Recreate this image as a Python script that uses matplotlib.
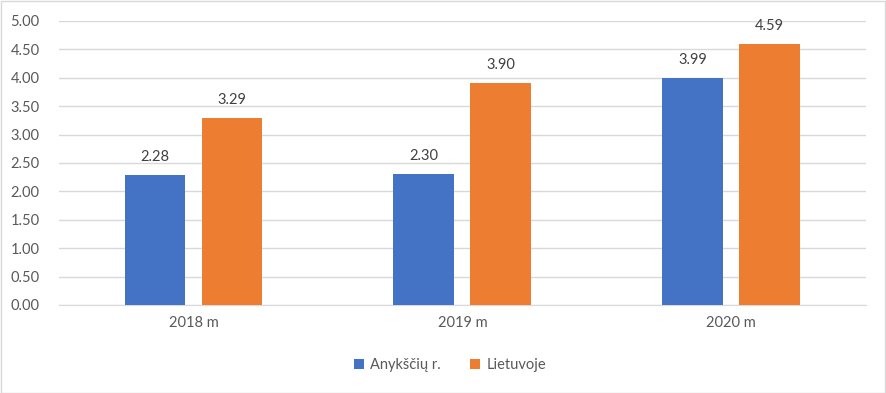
import matplotlib.pyplot as plt
import numpy as np

plt.rcParams['font.family'] = ['Lato', 'DejaVu Sans']

years = ['2018 m', '2019 m', '2020 m']
anyksciai = [2.28, 2.30, 3.99]
lietuva = [3.29, 3.90, 4.59]
series_names = ['Anykščių r.', 'Lietuvoje']

blue = '#4472C4'
orange = '#ED7D31'
txt = '#595959'

fig = plt.figure(figsize=(8.86, 3.93), dpi=100)
ax = fig.add_axes([0.0666, 0.224, 0.9104, 0.7226])

x = np.arange(len(years))
w = 0.226
off = 0.143
b1 = ax.bar(x - off, anyksciai, w, color=blue, label=series_names[0], zorder=3)
b2 = ax.bar(x + off, lietuva, w, color=orange, label=series_names[1], zorder=3)

for bars, vals in ((b1, anyksciai), (b2, lietuva)):
    for r, v in zip(bars, vals):
        ax.text(r.get_x() + r.get_width() / 2, v + 0.2, f'{v:.2f}',
                ha='center', va='bottom', fontsize=10.5, color='#404040')

ax.set_xlim(-0.5, 2.5)
ax.set_ylim(0, 5)
ax.set_yticks(np.arange(0, 5.01, 0.5))
ax.set_yticklabels([f'{v:.2f}' for v in np.arange(0, 5.01, 0.5)])
ax.set_xticks(x)
ax.set_xticklabels(years)
ax.tick_params(axis='both', length=0, labelsize=10.5, colors=txt)
ax.tick_params(axis='y', pad=14)
ax.tick_params(axis='x', pad=8)
ax.grid(axis='y', color='#D9D9D9', linewidth=1, zorder=0)
for s in ['top', 'right', 'left']:
    ax.spines[s].set_visible(False)
ax.spines['bottom'].set_color('#D9D9D9')

leg = fig.legend(loc='center', bbox_to_anchor=(0.508, 0.071), ncol=2, frameon=False,
                 fontsize=10.5, handlelength=0.7, handleheight=0.7, columnspacing=2.0,
                 handletextpad=0.4)
for t in leg.get_texts():
    t.set_color(txt)

fig.patches.append(plt.Rectangle((0.001, 0.001), 0.998, 0.997, transform=fig.transFigure,
                                 fill=False, edgecolor='#D9D9D9', linewidth=1))

fig.savefig('out.png', dpi=100)
